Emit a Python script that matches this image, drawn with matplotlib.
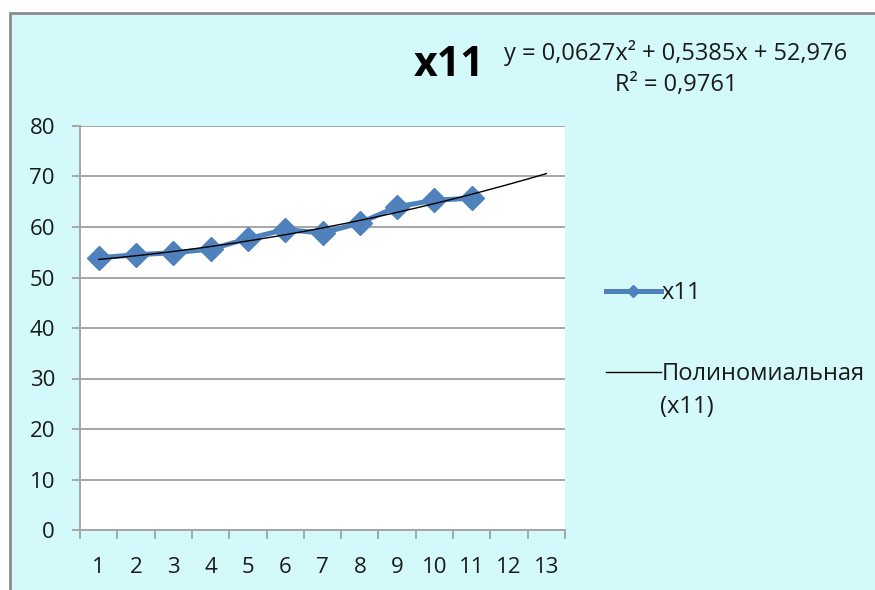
import numpy as np
import matplotlib.pyplot as plt
from matplotlib.patches import Rectangle

plt.rcParams['font.family'] = ['Open Sans', 'DejaVu Sans']

# values
periods = list(range(1, 12))
x11 = [53.9, 54.5, 54.9, 55.6, 57.7, 59.5, 58.8, 60.8, 64.0, 65.3, 65.7]
categories = [str(i) for i in range(1, 14)]
trend_coef = [0.0627, 0.5385, 52.976]   # x^2, x, const
r_squared = 0.9761
y_ticks = [0, 10, 20, 30, 40, 50, 60, 70, 80]

W, H = 875, 590
BG = '#D3F9FA'
GRID = '#A6A6A6'
BLUE = '#4F81BD'
TXT = '#1a1a1a'

fig = plt.figure(figsize=(W / 100, H / 100), dpi=100, facecolor='white')

# chart area (cut off at right and bottom like the screenshot)
fig.patches.append(Rectangle((10 / W, -0.05), 1.2, 1 - 13 / H + 0.05,
                             transform=fig.transFigure, facecolor=BG,
                             edgecolor='#8C8C8C', lw=2, zorder=-5))

ax = fig.add_axes([80 / W, 1 - 530 / H, 485 / W, 404 / H])
ax.set_facecolor('white')

n_cat = len(categories)
xs = np.arange(1, n_cat + 1)
ax.set_xlim(0.5, n_cat + 0.5)
ax.set_ylim(y_ticks[0], y_ticks[-1])

ax.plot(periods, x11, color=BLUE, lw=3.6, marker='D', markersize=12,
        label='x11', zorder=3)

tx = np.linspace(1, n_cat, 200)
ax.plot(tx, np.polyval(trend_coef, tx), color='black', lw=1.0,
        label='Полиномиальная', zorder=4)

ax.set_yticks(y_ticks)
ax.yaxis.grid(True, color=GRID, lw=1.4)
ax.set_axisbelow(True)
ax.tick_params(axis='y', length=6, width=1.4, color=GRID, pad=12,
               labelsize=16, labelcolor=TXT)

ax.set_xticks(np.arange(0.5, n_cat + 1, 1.0))
ax.set_xticklabels([])
ax.set_xticks(xs, minor=True)
ax.set_xticklabels(categories, minor=True)
ax.tick_params(axis='x', which='major', length=6.5, width=1.4, color=GRID)
ax.tick_params(axis='x', which='minor', length=0, pad=19.5, labelsize=16,
               labelcolor=TXT)

for s in ['top', 'right']:
    ax.spines[s].set_visible(False)
for s in ['left', 'bottom']:
    ax.spines[s].set_color(GRID)
    ax.spines[s].set_linewidth(1.4)

# title and trendline equation
fig.text(449 / W, 1 - 66 / H, 'x11', ha='center', va='center',
         fontsize=29.5, fontweight='bold', color='black')
a, b, c = trend_coef
eq = f'y = {a}x² + {b}x + {c}'.replace('.', ',')
fig.text(676 / W, 1 - 53 / H, eq, ha='center', va='center', fontsize=17,
         color=TXT)
fig.text(676 / W, 1 - 85 / H, f'R² = {r_squared}'.replace('.', ','),
         ha='center', va='center', fontsize=17, color=TXT)

h, l = ax.get_legend_handles_labels()
fig.legend(h, l, loc='upper left', bbox_to_anchor=(585 / W, 1 - 260 / H),
           frameon=False, fontsize=17, labelspacing=2.4, handlelength=2.3,
           handletextpad=0.05, markerscale=0.55, labelcolor=TXT)
# second line of the trendline legend label
fig.text(660 / W, 1 - 407 / H, '(x11)', ha='left', va='center',
         fontsize=17, color=TXT)

fig.savefig('out.png', dpi=100, facecolor='white')
